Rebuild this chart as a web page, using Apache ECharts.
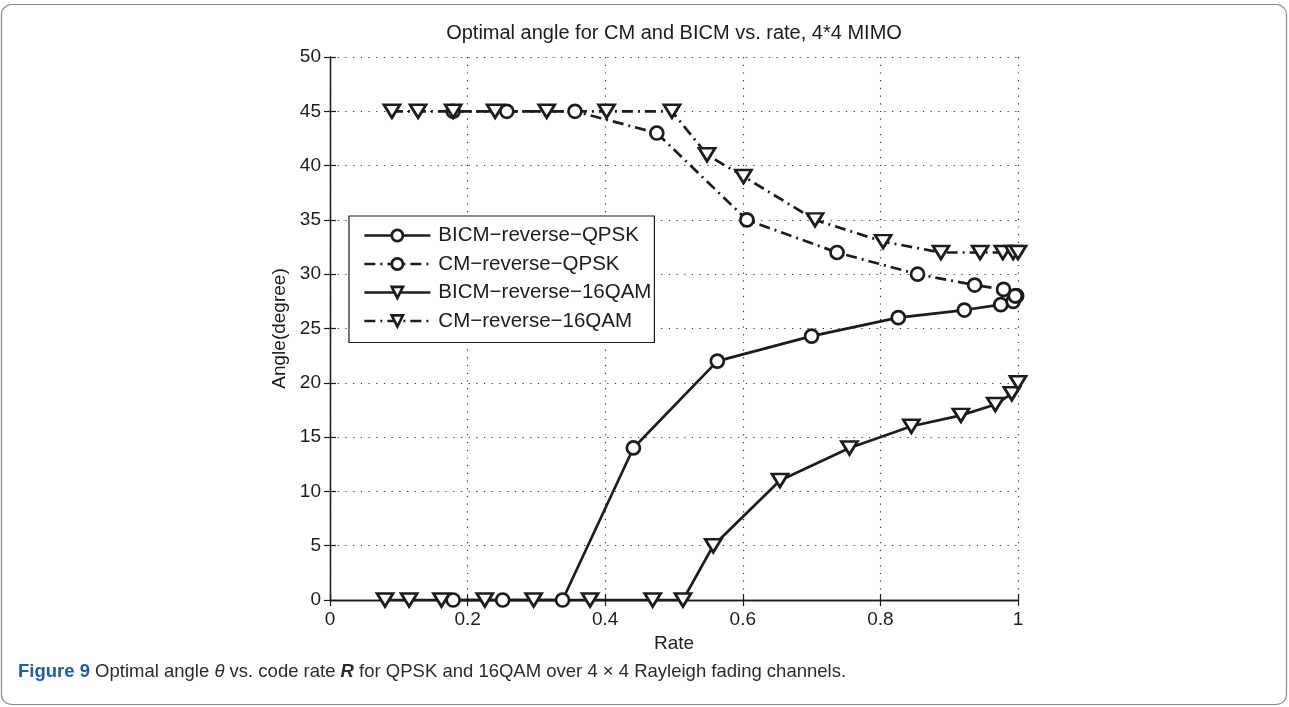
<!DOCTYPE html>
<html>
<head>
<meta charset="utf-8">
<script src="https://cdn.jsdelivr.net/npm/echarts@6/dist/echarts.min.js"></script>
<style>
html,body{margin:0;padding:0;background:#fff}
#chart{width:1289px;height:707px}
</style>
</head>
<body>
<div id="chart"></div>
<script>
// Optimal rotation angle (degrees) against code rate for each scheme
const bicmQpskRate  = [0.179, 0.251, 0.338, 0.441, 0.563, 0.700, 0.826, 0.922, 0.975, 0.993, 0.998];
const bicmQpskAngle = [0, 0, 0, 14, 22, 24.3, 26, 26.7, 27.2, 27.5, 28];

const cmQpskRate  = [0.179, 0.257, 0.356, 0.475, 0.606, 0.737, 0.854, 0.937, 0.979, 0.996];
const cmQpskAngle = [45, 45, 45, 43, 35, 32, 30, 29, 28.6, 28];

const bicm16Rate  = [0.080, 0.115, 0.162, 0.225, 0.296, 0.378, 0.469, 0.513, 0.557, 0.654, 0.755, 0.845, 0.917, 0.967, 0.991, 1.0];
const bicm16Angle = [0, 0, 0, 0, 0, 0, 0, 0, 5, 11, 14, 16, 17, 18, 19, 20];

const cm16Rate  = [0.090, 0.128, 0.179, 0.240, 0.315, 0.402, 0.497, 0.548, 0.601, 0.705, 0.804, 0.888, 0.945, 0.978, 0.993, 1.0];
const cm16Angle = [45, 45, 45, 45, 45, 45, 45, 41, 39, 35, 33, 32, 32, 32, 32, 32];

const seriesNames = ['BICM\u2212reverse\u2212QPSK', 'CM\u2212reverse\u2212QPSK', 'BICM\u2212reverse\u221216QAM', 'CM\u2212reverse\u221216QAM'];
const chartTitle = 'Optimal angle for CM and BICM vs. rate, 4*4 MIMO';
const xName = 'Rate';
const yName = 'Angle(degree)';

const zip = (xs, ys) => xs.map((x, i) => [x, ys[i]]);

const ink = '#1c1c1c';
const font = '"Liberation Sans", Arial, Helvetica, sans-serif';
const capFont = '"Liberation Sans Narrow", "Liberation Sans", Arial, sans-serif';
const downTri = 'path://M0,0 L10,0 L5,8.7 Z';
const dashDot = [11, 5, 2, 5];
const strokeW = 2.7;

function makeSeries(name, data, symbol, size, dashed) {
  return {
    name: name,
    type: 'line',
    data: data,
    symbol: symbol,
    symbolSize: size,
    clip: false,
    showAllSymbol: true,
    lineStyle: { color: ink, width: strokeW, type: dashed ? dashDot : 'solid' },
    itemStyle: { color: '#fff', borderColor: ink, borderWidth: strokeW },
    emphasis: { disabled: true },
    animation: false
  };
}

const baseAxisLine = { show: true, lineStyle: { color: ink, width: 1.3 } };
const tickInside = { show: true, inside: true, length: 6, lineStyle: { color: ink, width: 1.2 } };
const dotted = { show: true, lineStyle: { color: '#333', width: 1.2, type: [1.2, 6.5] } };

const chart = echarts.init(document.getElementById('chart'), null, { renderer: 'canvas' });
chart.setOption({
  backgroundColor: '#fff',
  animation: false,
  grid: { left: 330, top: 57, right: 271, bottom: 107, containLabel: false },
  xAxis: [{
    type: 'value', min: 0, max: 1, interval: 0.2,
    name: xName, nameLocation: 'middle', nameGap: 30,
    nameTextStyle: { fontFamily: font, fontSize: 19, color: ink },
    axisLine: baseAxisLine, axisTick: tickInside, splitLine: dotted,
    axisLabel: { fontFamily: font, fontSize: 19, color: ink, margin: 10,
      formatter: v => String(Math.round(v * 10) / 10) }
  }, {
    type: 'value', min: 0, max: 1, interval: 0.2, position: 'top',
    axisLine: baseAxisLine, axisTick: tickInside, splitLine: { show: false },
    axisLabel: { show: false }
  }],
  yAxis: [{
    type: 'value', min: 0, max: 50, interval: 5,
    name: yName, nameLocation: 'middle', nameGap: 39, nameRotate: 90,
    nameTextStyle: { fontFamily: font, fontSize: 19, color: ink },
    axisLine: baseAxisLine, axisTick: tickInside, splitLine: dotted,
    axisLabel: { fontFamily: font, fontSize: 19, color: ink, margin: 9 }
  }, {
    type: 'value', min: 0, max: 50, interval: 5, position: 'right',
    axisLine: baseAxisLine, axisTick: tickInside, splitLine: { show: false },
    axisLabel: { show: false }
  }],
  legend: {
    orient: 'vertical', left: 349, top: 216,
    backgroundColor: '#fff', borderColor: ink, borderWidth: 1.2,
    padding: [9, 3, 11, 14],
    itemWidth: 66, itemHeight: 14, itemGap: 7.5,
    lineStyle: { width: strokeW },
    itemStyle: { borderWidth: strokeW },
    textStyle: { fontFamily: font, fontSize: 20.5, color: ink, lineHeight: 21, padding: [0, 0, 0, 3] },
    data: seriesNames,
    selectedMode: false
  },
  graphic: [
    {
      type: 'rect', z: -10, silent: true,
      shape: { x: 1.5, y: 4.5, width: 1285, height: 700, r: 10 },
      style: { fill: 'none', stroke: '#8a8a8a', lineWidth: 1.2 }
    },
    {
      type: 'text', silent: true, x: 674, y: 33,
      style: { text: chartTitle, font: '20px ' + font, fill: ink, align: 'center', verticalAlign: 'middle' }
    },
    {
      type: 'text', silent: true, x: 18, y: 672,
      style: {
        text: '{b|Figure 9} Optimal angle {i|\u03b8} vs. code rate {bi|R} for QPSK and 16QAM over 4 \u00d7 4 Rayleigh fading channels.',
        fontFamily: capFont, fontSize: 18.5,
        fill: '#2b2b2b', verticalAlign: 'middle',
        rich: {
          b: { fontFamily: capFont, fontSize: 18.5, fontWeight: 'bold', fill: '#1d5ea8' },
          i: { fontFamily: capFont, fontSize: 18.5, fontStyle: 'italic', fill: '#2b2b2b' },
          bi: { fontFamily: capFont, fontSize: 18.5, fontStyle: 'italic', fontWeight: 'bold', fill: '#2b2b2b' }
        }
      }
    }
  ],
  series: [
    makeSeries(seriesNames[0], zip(bicmQpskRate, bicmQpskAngle), 'circle', 13, false),
    makeSeries(seriesNames[1], zip(cmQpskRate, cmQpskAngle), 'circle', 13, true),
    makeSeries(seriesNames[2], zip(bicm16Rate, bicm16Angle), downTri, [16, 13], false),
    makeSeries(seriesNames[3], zip(cm16Rate, cm16Angle), downTri, [16, 13], true)
  ]
});
</script>
</body>
</html>
